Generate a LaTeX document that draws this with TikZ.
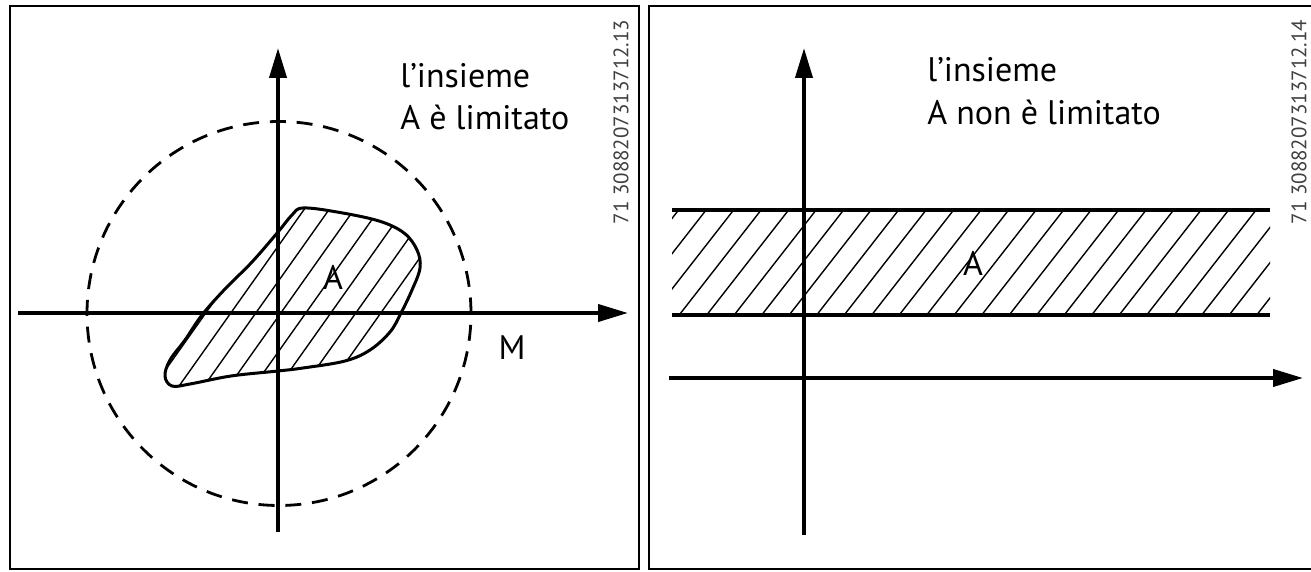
\documentclass[tikz,border=0pt]{standalone}
\usepackage{fontspec}
\setmainfont{PT Sans}
\usetikzlibrary{arrows.meta}
\begin{document}
\begin{tikzpicture}[x=0.5pt,y=-0.5pt,
  axis/.style={line width=2pt,-{Triangle[length=15pt,width=8.5pt]}},
  frame/.style={line width=1.3pt},
  lbl/.style={font=\fontsize{17}{20}\selectfont, inner sep=0pt, anchor=base west},
  letter/.style={font=\fontsize{17}{20}\selectfont, inner sep=0pt},
  code/.style={font=\fontsize{10.5}{12}\selectfont, text=black!75, rotate=90, inner sep=0pt},
  hatch/.style={line width=0.7pt},
  bound/.style={line width=2.2pt},
  outline/.style={line width=1.5pt},
  dashcircle/.style={line width=1.4pt, dash pattern=on 8pt off 5.4pt}]
\useasboundingbox (0,0) rectangle (1311,572);
\fill[white] (0,0) rectangle (1311,572);

% ---------- left panel ----------
\draw[frame] (10,6) rectangle (639,569);
\coordinate (y1b) at (278,532);
\coordinate (y1t) at (278,48);
\coordinate (x1l) at (18,313);
\coordinate (x1r) at (628,313);
\def\blobpath{plot[smooth cycle, tension=0.6] coordinates {
  (303,208) (337,212) (379,221) (404,233) (417,250) (420,268) (412,290)
  (401,313) (390,332) (370,350) (345,361) (303,368) (278,371) (231,376)
  (190,384) (172,386) (165,376) (170,360) (185,340) (202,315) (225,289)
  (252,262) (278,232) (292,215)}}
\begin{scope}
  \clip \blobpath;
  \foreach \x in {-20,5,...,440} \draw[hatch] (\x,420) -- ++(170,-240);
\end{scope}
\draw[outline] \blobpath;
\draw[dashcircle] (279,313.5) circle[radius=96pt];
\draw[axis] (x1l) -- (x1r);
\draw[axis] (y1b) -- (y1t);
\node[lbl] (t1a) at (400,88) {l’insieme};
\node[lbl] (t1b) at (400,130) {A è limitato};
\node[letter] (a1) at (333,277) {A};
\node[letter] (m1) at (512,348) {M};
\node[code] (c1) at (621,122) {71 3088207313712.13};

% ---------- right panel ----------
\draw[frame] (1311,6) -- (649,6) -- (649,569) -- (1311,569);
\coordinate (bl1) at (672,210);
\coordinate (br1) at (1270,210);
\coordinate (bl2) at (672,315);
\coordinate (br2) at (1270,315);
\begin{scope}
  \clip (bl1) rectangle (br2);
  \foreach \x in {585,612.5,...,1290} \draw[hatch] (\x,330) -- ++(117,-150);
\end{scope}
\draw[bound] (bl1) -- (br1);
\draw[bound] (bl2) -- (br2);
\coordinate (y2b) at (804,535);
\coordinate (y2t) at (804,48);
\coordinate (x2l) at (669,378);
\coordinate (x2r) at (1303,378);
\draw[axis] (x2l) -- (x2r);
\draw[axis] (y2b) -- (y2t);
\node[lbl] (t2a) at (927,82) {l’insieme};
\node[lbl] (t2b) at (927,125) {A non è limitato};
\node[letter] (a2) at (973,263) {A};
\node[code] (c2) at (1299,122) {71 3088207313712.14};
\end{tikzpicture}
\end{document}
